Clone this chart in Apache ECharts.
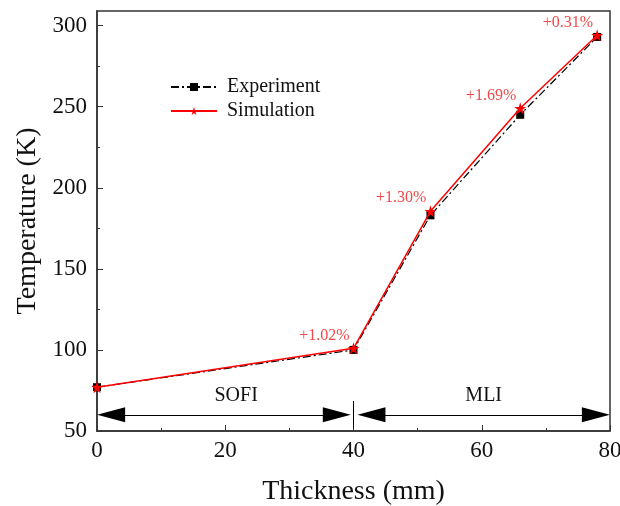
<!DOCTYPE html>
<html><head><meta charset="utf-8">
<script src="https://cdn.jsdelivr.net/npm/echarts@6/dist/echarts.min.js"></script>
<style>html,body{margin:0;padding:0;background:#fff}#c{width:620px;height:506px}</style>
</head><body><div id="c"></div>
<script>
const thickness = [0, 40, 52, 66, 78];
const experiment = [77, 100, 183, 245, 293];
const simulation = [77, 101, 185.5, 249, 294];
const deviations = ['', '+1.02%', '+1.30%', '+1.69%', '+0.31%'];
const yTicks = [50, 100, 150, 200, 250, 300];
const yMinorTicks = [75, 125, 175, 225, 275];
const regions = ['SOFI', 'MLI'];

const FONT = 'Liberation Serif';
const STAR = 'path://M50,0 L61,35 L98,35 L68,57 L79,91 L50,70 L21,91 L32,57 L2,35 L39,35 Z';
const chart = echarts.init(document.getElementById('c'));
const arrowEnd = (x, y) => ({ coord: [x, y], symbol: 'triangle', symbolSize: [15, 28] });

chart.setOption({
  animation: false,
  grid: { left: 97, right: 10, top: 11, bottom: 75, outerBoundsMode: 'none', containLabel: false,
    show: true, borderColor: '#333', borderWidth: 1.5, backgroundColor: 'transparent' },
  legend: {
    orient: 'vertical', left: 165, top: 72, itemWidth: 46, itemHeight: 10, itemGap: 4,
    textStyle: { fontFamily: FONT, fontSize: 20, color: '#111', padding: [0, 0, 0, 5] },
    data: ['Experiment', 'Simulation']
  },
  xAxis: {
    type: 'value', min: 0, max: 80, interval: 20,
    name: 'Thickness (mm)', nameLocation: 'middle', nameGap: 47,
    nameTextStyle: { fontFamily: FONT, fontSize: 28, color: '#111' },
    axisLine: { show: true, lineStyle: { color: '#333', width: 1.5 } },
    axisTick: { inside: true, length: 6, lineStyle: { color: '#333' } },
    minorTick: { show: true, splitNumber: 2, length: 3, lineStyle: { color: '#333' } },
    axisLabel: { fontFamily: FONT, fontSize: 23, color: '#111', margin: 8 },
    splitLine: { show: false }
  },
  yAxis: [{
    type: 'value', min: 50, max: 309, interval: 50,
    name: 'Temperature (K)', nameLocation: 'middle', nameGap: 53,
    nameTextStyle: { fontFamily: FONT, fontSize: 28, color: '#111' },
    axisLine: { show: true, lineStyle: { color: '#333', width: 1.5 } },
    axisTick: { inside: true, length: 6, customValues: yTicks, lineStyle: { color: '#333' } },
    axisLabel: { fontFamily: FONT, fontSize: 23, color: '#111', margin: 10, customValues: yTicks },
    splitLine: { show: false }
  }, {
    type: 'value', min: 50, max: 309, position: 'left',
    axisLine: { show: false },
    axisTick: { show: true, inside: true, length: 3, customValues: yMinorTicks, lineStyle: { color: '#333' } },
    axisLabel: { show: false },
    splitLine: { show: false }
  }],
  series: [{
    name: 'Experiment', type: 'line',
    data: thickness.map((x, i) => [x, experiment[i]]),
    symbol: 'rect', symbolSize: 8,
    itemStyle: { color: '#000' },
    lineStyle: { color: '#000', width: 1.2, type: [8, 3, 2, 3] },
    z: 2,
    markLine: {
      silent: true, symbol: 'none', label: { show: false },
      lineStyle: { color: '#000', width: 1, type: 'solid' },
      emphasis: { disabled: true },
      data: [
        [arrowEnd(2.2, 60), arrowEnd(37.4, 60)],
        [arrowEnd(42.8, 60), arrowEnd(77.8, 60)],
        [{ coord: [40, 68.5], symbol: 'none' }, { coord: [40, 52], symbol: 'none' }]
      ]
    },
    markPoint: {
      silent: true, symbol: 'rect', symbolSize: 0,
      label: { show: true, formatter: '{b}', fontFamily: FONT, fontSize: 20, color: '#111' },
      data: [
        { name: regions[0], coord: [21.7, 71.5] },
        { name: regions[1], coord: [60.3, 71.5] }
      ]
    }
  }, {
    name: 'Simulation', type: 'line',
    data: thickness.map((x, i) => ({
      value: [x, simulation[i]],
      label: { show: deviations[i] !== '', formatter: deviations[i] }
    })),
    symbol: STAR, symbolSize: 12,
    itemStyle: { color: '#ff0000' },
    lineStyle: { color: '#ff0000', width: 1.5 },
    z: 3,
    label: { position: 'left', offset: [7, -13], fontFamily: FONT, fontSize: 16, color: '#f04848' }
  }]
});
</script></body></html>
